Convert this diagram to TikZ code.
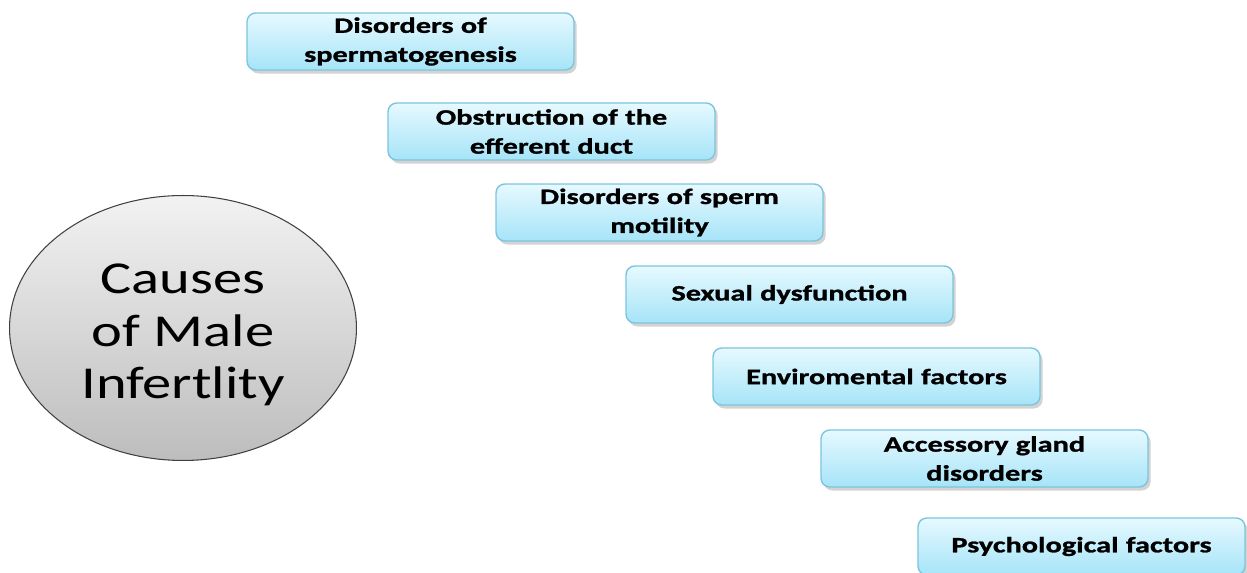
\documentclass[tikz,border=0pt]{standalone}
\usepackage{fontspec}
\setmainfont{Carlito}
\newfontfamily\boxfont[FakeStretch=1.38,FakeBold=1.2,WordSpace=0.6]{Carlito Bold}
\newfontfamily\hubfont[FakeStretch=1.28]{Carlito}
\usetikzlibrary{shadows,shapes.geometric}
\definecolor{boxtop}{HTML}{E6F9FF}
\definecolor{boxbot}{HTML}{A6E4F8}
\definecolor{boxline}{HTML}{7CC4DE}
\definecolor{elltop}{HTML}{F2F2F2}
\definecolor{ellbot}{HTML}{BDBDBD}
\tikzset{
  x=0.02cm, y=-0.02cm,
  causebox/.style={draw=boxline, line width=0.8pt, rounded corners=5pt,
    top color=boxtop, bottom color=boxbot,
    minimum width=6.5cm, minimum height=1.14cm, inner sep=2pt,
    align=center, text width=6.4cm,
    font=\boxfont\fontsize{12.5}{16.5}\selectfont,
    drop shadow={opacity=0.35, shadow xshift=1.5pt, shadow yshift=-2pt}},
  hub/.style={ellipse, draw=black!75, line width=0.6pt,
    top color=elltop, bottom color=ellbot,
    minimum width=6.94cm, minimum height=5.3cm, inner sep=0pt,
    align=center, font=\hubfont\fontsize{26}{30}\selectfont}
}
\begin{document}
\begin{tikzpicture}
\useasboundingbox (0,0) rectangle (1247,573);
\node[hub] (hub) at (183,328) {};
\node[font=\hubfont\fontsize{26}{30}\selectfont, align=center] (hubtext) at (183,335) {Causes\\of Male\\Infertlity};
\node[causebox] (b1) at (410.5,41.5) {\raisebox{-2pt}{\parbox{6.4cm}{\centering Disorders of\\spermatogenesis}}};
\node[causebox] (b2) at (551.5,131.5) {\raisebox{-2pt}{\parbox{6.4cm}{\centering Obstruction of the\\efferent duct}}};
\node[causebox] (b3) at (659.5,212.5) {\raisebox{-2pt}{\parbox{6.4cm}{\centering Disorders of sperm\\motility}}};
\node[causebox] (b4) at (789.5,294.5) {Sexual dysfunction};
\node[causebox] (b5) at (876.5,376.5) {Enviromental factors};
\node[causebox] (b6) at (984.5,458.5) {\raisebox{-2pt}{\parbox{6.4cm}{\centering Accessory gland\\disorders}}};
\node[causebox] (b7) at (1081.5,546.5) {Psychological factors};
\end{tikzpicture}
\end{document}
